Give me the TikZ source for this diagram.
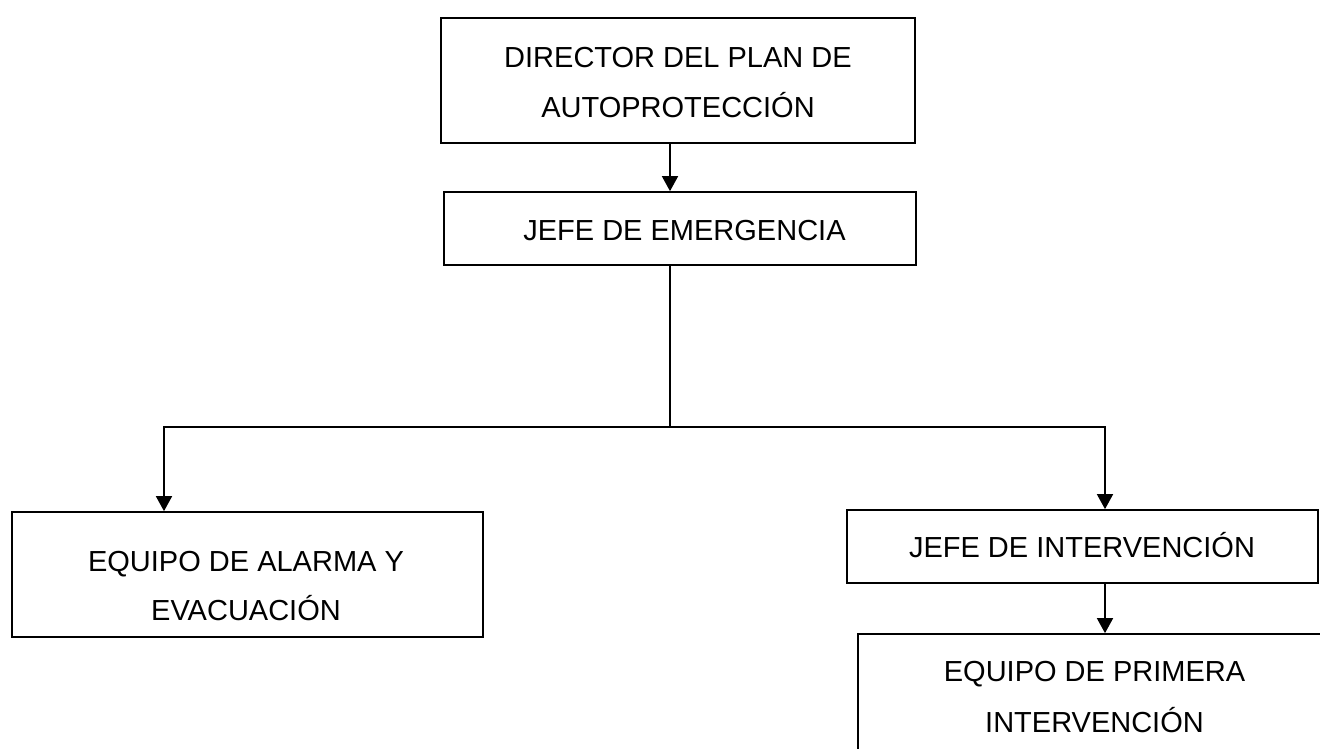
\documentclass[tikz,border=0pt]{standalone}
\usepackage{fontspec}
\setmainfont{Liberation Sans}
\usetikzlibrary{arrows.meta}
\begin{document}
\begin{tikzpicture}[x=1pt,y=-1pt]
\tikzset{
  box/.style={draw, line width=1.7pt, inner sep=0pt},
  lbl/.style={font=\fontsize{29}{35}\selectfont, anchor=base, inner sep=0pt},
  wire/.style={line width=1.7pt},
  conn/.style={line width=1.7pt, -{Triangle[width=16pt,length=15pt]}}
}
\useasboundingbox (0,0) rectangle (1320,749);
% boxes
\node[box, minimum width=474pt, minimum height=125pt] (b1) at (678,80.5) {};
\node[box, minimum width=472pt, minimum height=73pt] (b2) at (680,228.5) {};
\node[box, minimum width=471pt, minimum height=125pt] (b3) at (247.5,574.5) {};
\node[box, minimum width=471pt, minimum height=73pt] (b4) at (1082.5,546.5) {};
\node[box, minimum width=473pt, minimum height=126pt] (b5) at (1094.5,697) {};
% texts
\node[lbl] (t1a) at (678,68) {DIRECTOR DEL PLAN DE};
\node[lbl] (t1b) at (678,118) {AUTOPROTECCIÓN};
\node[lbl] (t2) at (684.5,240) {JEFE DE EMERGENCIA};
\node[lbl] (t3a) at (246,571) {EQUIPO DE ALARMA Y};
\node[lbl] (t3b) at (246,620) {EVACUACIÓN};
\node[lbl] (t4) at (1082,557) {JEFE DE INTERVENCIÓN};
\node[lbl] (t5a) at (1094.5,681) {EQUIPO DE PRIMERA};
\node[lbl] (t5b) at (1094.5,732) {INTERVENCIÓN};
% connectors
\coordinate (cx) at (670,0);
\coordinate (lx) at (164,0);
\coordinate (rx) at (1105,0);
\coordinate (split) at (670,427);
\draw[conn] (b1.south -| cx) -- (b2.north -| cx);
\draw[wire] (b2.south -| cx) -- (split);
\draw[conn] (split) -| (b3.north -| lx);
\draw[conn] (split) -| (b4.north -| rx);
\draw[conn] (b4.south -| rx) -- (b5.north -| rx);
\end{tikzpicture}
\end{document}
